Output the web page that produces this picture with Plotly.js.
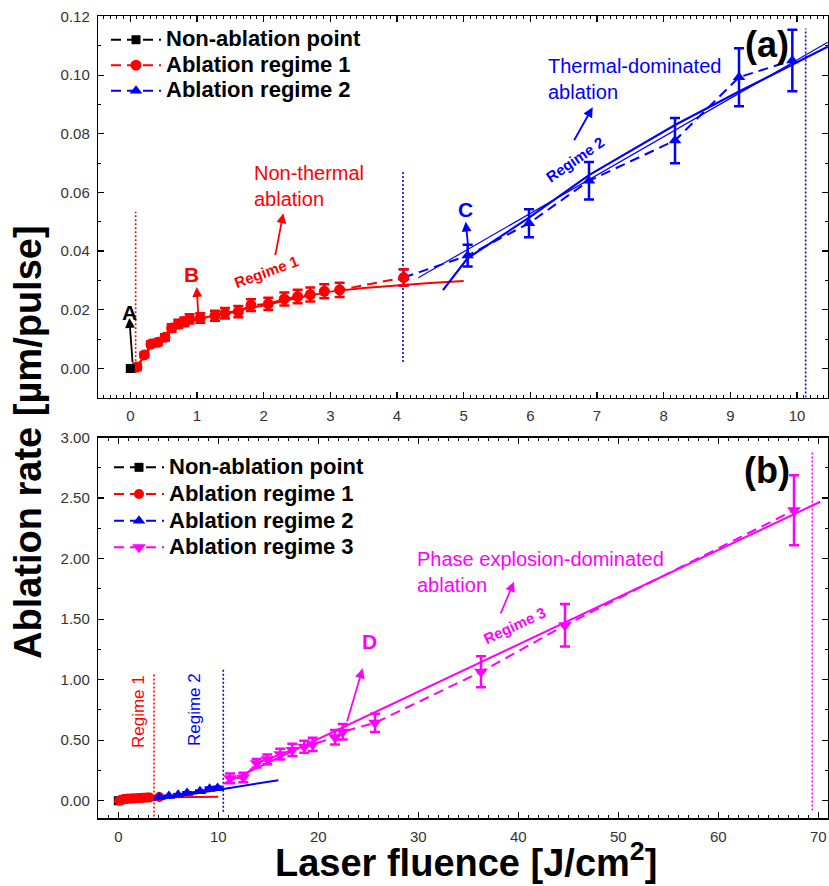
<!DOCTYPE html>
<html>
<head>
<meta charset="utf-8">
<script src="https://cdn.plot.ly/plotly-3.0.1.min.js"></script>
<style>
  html, body { margin: 0; padding: 0; background: #fff; }
  #chart { width: 829px; height: 886px; }
</style>
</head>
<body>
<div id="chart"></div>
<script>
// ---- measured ablation rates [µm/pulse] vs laser fluence [J/cm²] ----
const naX = [0];
const naY = [0];

// regime 1 (non-thermal)
const r1X = [0.10, 0.21, 0.31, 0.41, 0.52, 0.62, 0.72, 0.81, 0.89, 1.05, 1.27, 1.42, 1.62, 1.81, 2.07, 2.31, 2.51, 2.70, 2.91, 3.14, 4.10];
const r1Y = [0.0005, 0.0046, 0.0083, 0.0089, 0.0106, 0.0138, 0.0152, 0.0159, 0.0169, 0.0172, 0.0180, 0.0188, 0.0194, 0.0216, 0.0220, 0.0237, 0.0245, 0.0252, 0.0263, 0.0268, 0.0310];
const r1E = [0.0010, 0.0008, 0.0009, 0.0010, 0.0011, 0.0013, 0.0014, 0.0015, 0.0016, 0.0016, 0.0017, 0.0018, 0.0019, 0.0020, 0.0021, 0.0022, 0.0023, 0.0024, 0.0024, 0.0024, 0.0028];

// regime 2 (thermal-dominated)
const r2X = [4.10, 5.06, 5.98, 6.88, 8.17, 9.13, 9.93];
const r2Y = [0.0310, 0.0385, 0.0495, 0.0640, 0.0777, 0.0993, 0.1050];
const r2E = [0.0028, 0.0037, 0.0048, 0.0064, 0.0077, 0.0099, 0.0105];

// regime 3 (phase explosion-dominated)
const r3X = [11.17, 12.50, 13.84, 14.90, 16.20, 17.40, 18.60, 19.44, 21.67, 22.44, 25.67, 36.27, 44.67, 67.57];
const r3Y = [0.185, 0.192, 0.310, 0.342, 0.385, 0.420, 0.446, 0.465, 0.525, 0.570, 0.644, 1.065, 1.450, 2.400];
const r3E = [0.040, 0.040, 0.035, 0.040, 0.045, 0.050, 0.050, 0.055, 0.060, 0.065, 0.075, 0.128, 0.176, 0.290];

// fitted curves
const fit1X = [0.10, 0.20, 0.30, 0.45, 0.60, 0.80, 1.00, 1.30, 1.60, 2.00, 2.50, 3.00, 3.50, 4.00, 4.50, 5.00];
const fit1Y = [0.0005, 0.0040, 0.0072, 0.0100, 0.0125, 0.0150, 0.0167, 0.0183, 0.0196, 0.0215, 0.0240, 0.0262, 0.0274, 0.0283, 0.0291, 0.0298];
const fit1LongX = [0.10, 1.00, 3.00, 5.00, 7.50, 10.00];
const fit1LongY = [0.0005, 0.0167, 0.0262, 0.0298, 0.0320, 0.0340];
const fit2CurveX = [4.69, 5.06, 5.98, 6.88, 8.17, 9.13, 10.46];
const fit2CurveY = [0.0267, 0.0376, 0.0514, 0.0659, 0.0830, 0.0944, 0.1097];
const fit2LineX = [4.32, 10.46];
const fit2LineY = [0.0309, 0.1112];
const fit2LongX = [3.5, 16.0];
const fit2LongY = [0.005, 0.170];
const fit3X = [10.5, 70.2];
const fit3Y = [0.14, 2.47];

// regime boundaries (vertical dotted markers)
const bndTopX = [0.08, 4.09, 10.13];
const bndTopLo = [-0.0016, 0.0022, -0.0099];
const bndTopHi = [0.0534, 0.0670, 0.1159];
const bndBotX = [3.57, 10.5, 69.4];
const bndBotLo = [-0.13, -0.09, -0.08];
const bndBotHi = [1.05, 1.09, 2.88];

// tick labels
const xTicksTop = [0, 1, 2, 3, 4, 5, 6, 7, 8, 9, 10];
const yTicksTop = [0, 0.02, 0.04, 0.06, 0.08, 0.10, 0.12];
const xTicksBot = [0, 10, 20, 30, 40, 50, 60, 70];
const yTicksBot = [0, 0.5, 1.0, 1.5, 2.0, 2.5, 3.0];

// ---- drawing ----
const W = 829, H = 886;
const X = p => p / W;
const Y = p => 1 - p / H;
const FONT = 'Liberation Sans, Arial, Helvetica, sans-serif';
const RED = '#ff0000', BLUE = '#0000ff', MAG = '#ff00ff', BLACK = '#000000';
// legend labels are set larger than the legend's own font so rows stay tight
const big = s => '<span style="font-size:22px">' + s + '</span>';

function series(x, y, err, color, symbol, size, name, xa, ya, legend) {
  const t = {
    type: 'scatter', mode: 'lines+markers', x, y, name: big(name),
    xaxis: xa, yaxis: ya, legend,
    line: { color, width: 2, dash: '10px,6px' },
    marker: { color, symbol, size, line: { width: 0 } },
    showlegend: true
  };
  if (err) t.error_y = { type: 'data', array: err, visible: true, color, thickness: 2.5, width: 5 };
  return t;
}
function line(x, y, color, width, xa, ya, dash) {
  return { type: 'scatter', mode: 'lines', x, y, xaxis: xa, yaxis: ya,
    line: { color, width, dash: dash || 'solid' }, showlegend: false, hoverinfo: 'skip' };
}
function bounds(xs, lo, hi, colors, xa, ya) {
  return xs.map((v, i) => line([v, v], [lo[i], hi[i]], colors[i], 1.6, xa, ya, '2px,2px'));
}

const traces = [
  // panel (a)
  ...bounds(bndTopX, bndTopLo, bndTopHi, [RED, BLUE, BLUE], 'x', 'y'),
  line(fit1X, fit1Y, RED, 2, 'x', 'y'),
  line(fit2LineX, fit2LineY, BLUE, 1.2, 'x', 'y'),
  line(fit2CurveX, fit2CurveY, BLUE, 2.2, 'x', 'y'),
  series(r2X, r2Y, r2E, BLUE, 'triangle-up', 11, 'Ablation regime 2', 'x', 'y', 'legend'),
  series(r1X, r1Y, r1E, RED, 'circle', 11, 'Ablation regime 1', 'x', 'y', 'legend'),
  series(naX, naY, null, BLACK, 'square', 9, 'Non-ablation point', 'x', 'y', 'legend'),

  // panel (b)
  ...bounds(bndBotX, bndBotLo, bndBotHi, [RED, BLUE, MAG], 'x2', 'y2'),
  line(fit1LongX, fit1LongY, RED, 2, 'x2', 'y2'),
  line(fit2LongX, fit2LongY, BLUE, 2, 'x2', 'y2'),
  line(fit3X, fit3Y, MAG, 2, 'x2', 'y2'),
  series(naX, naY, null, BLACK, 'square', 9, 'Non-ablation point', 'x2', 'y2', 'legend2'),
  series(r1X, r1Y, r1E, RED, 'circle', 10, 'Ablation regime 1', 'x2', 'y2', 'legend2'),
  series(r2X, r2Y, r2E, BLUE, 'triangle-up', 11, 'Ablation regime 2', 'x2', 'y2', 'legend2'),
  series(r3X, r3Y, r3E, MAG, 'triangle-down', 12, 'Ablation regime 3', 'x2', 'y2', 'legend2')
];

function axis(extra, minorStep) {
  return Object.assign({
    showline: true, linecolor: '#000', linewidth: 1.5, mirror: 'allticks',
    ticks: 'inside', ticklen: 6, tickwidth: 1.3, tickcolor: '#000',
    showgrid: false, zeroline: false, tickmode: 'array',
    tickfont: { family: FONT, size: 15, color: '#333' },
    ticklabelstandoff: 4,
    minor: { ticks: 'inside', ticklen: 3, tickwidth: 1, tickcolor: '#000', dtick: minorStep, showgrid: false }
  }, extra);
}

function txt(s, x, y, color, size, bold, angle, anchor) {
  return { text: s, xref: 'paper', yref: 'paper', x: X(x), y: Y(y),
    xanchor: anchor || 'center', yanchor: 'middle', align: 'left', showarrow: false,
    textangle: angle || 0,
    font: { family: FONT, size, color, weight: bold ? 'bold' : 'normal' } };
}
function arrow(tipX, tipY, tailX, tailY, color) {
  return { text: '', xref: 'paper', yref: 'paper', x: X(tipX), y: Y(tipY),
    ax: tailX - tipX, ay: tailY - tipY, showarrow: true,
    arrowhead: 2, arrowsize: 1.1, arrowwidth: 1.8, arrowcolor: color, standoff: 0 };
}

const layout = {
  width: W, height: H,
  margin: { l: 0, r: 0, t: 0, b: 0 },
  paper_bgcolor: '#fff', plot_bgcolor: '#fff',
  xaxis: axis({ domain: [X(98.3), X(828)], range: [-0.48, 10.465], anchor: 'y',
    tickvals: xTicksTop, ticktext: xTicksTop.map(String) }, 0.1),
  yaxis: axis({ domain: [Y(397.5), Y(16.2)], range: [-0.0099, 0.1201], anchor: 'x',
    tickvals: yTicksTop, ticktext: yTicksTop.map(v => v.toFixed(2)) }, 0.01),
  xaxis2: axis({ domain: [X(98.3), X(828)], range: [-2, 70.97], anchor: 'y2',
    tickvals: xTicksBot, ticktext: xTicksBot.map(String) }, 1),
  yaxis2: axis({ domain: [Y(818.3), Y(437.5)], range: [-0.145, 3.001], anchor: 'x2',
    tickvals: yTicksBot, ticktext: yTicksBot.map(v => v.toFixed(2)) }, 0.25),
  legend: { x: X(106), y: Y(22), xanchor: 'left', yanchor: 'top', bgcolor: 'rgba(0,0,0,0)',
    traceorder: 'reversed', itemwidth: 50,
    font: { family: FONT, size: 17.3, color: '#000', weight: 'bold' } },
  legend2: { x: X(109), y: Y(449), xanchor: 'left', yanchor: 'top', bgcolor: 'rgba(0,0,0,0)',
    traceorder: 'normal', itemwidth: 50,
    font: { family: FONT, size: 18.2, color: '#000', weight: 'bold' } },
  annotations: [
    // panel (a)
    txt('(a)', 767, 44, BLACK, 36, true),
    txt('A', 129, 312, BLACK, 21, true),
    arrow(129.3, 318, 132.7, 364, BLACK),
    txt('B', 191.7, 275, RED, 21, true),
    arrow(196.7, 287, 198.3, 315, RED),
    txt('Regime 1', 266.7, 271.7, RED, 15, true, -20),
    txt('Non-thermal<br>ablation', 252, 186, RED, 20, false, 0, 'left'),
    arrow(283.3, 213.3, 275, 256.7, RED),
    txt('C', 465, 209.3, BLUE, 21, true),
    arrow(465.7, 221.7, 468.3, 248.3, BLUE),
    txt('Thermal-dominated<br>ablation', 546, 79.2, BLUE, 20, false, 0, 'left'),
    arrow(592.7, 107.3, 573.3, 141.7, BLUE),
    txt('Regime 2', 575, 160, BLUE, 15, true, -35),
    // panel (b)
    txt('(b)', 767, 470, BLACK, 36, true),
    txt('Regime 1', 138.3, 711.7, RED, 17, false, -90),
    txt('Regime 2', 194, 710, BLUE, 17, false, -90),
    txt('D', 369.3, 641.7, MAG, 21, true),
    arrow(362.7, 668.3, 346.7, 722.7, MAG),
    txt('Phase explosion-dominated<br>ablation', 415, 571.7, MAG, 20, false, 0, 'left'),
    arrow(514, 581.7, 500, 615, MAG),
    txt('Regime 3', 514, 625, MAG, 15, true, -25),
    // axis titles
    txt('Ablation rate [µm/pulse]', 28, 442, BLACK, 38, true, -90),
    txt('Laser fluence [J/cm<sup>2</sup>]', 466, 860, BLACK, 38, true)
  ]
};

Plotly.newPlot('chart', traces, layout, { displayModeBar: false, staticPlot: true });
</script>
</body>
</html>
